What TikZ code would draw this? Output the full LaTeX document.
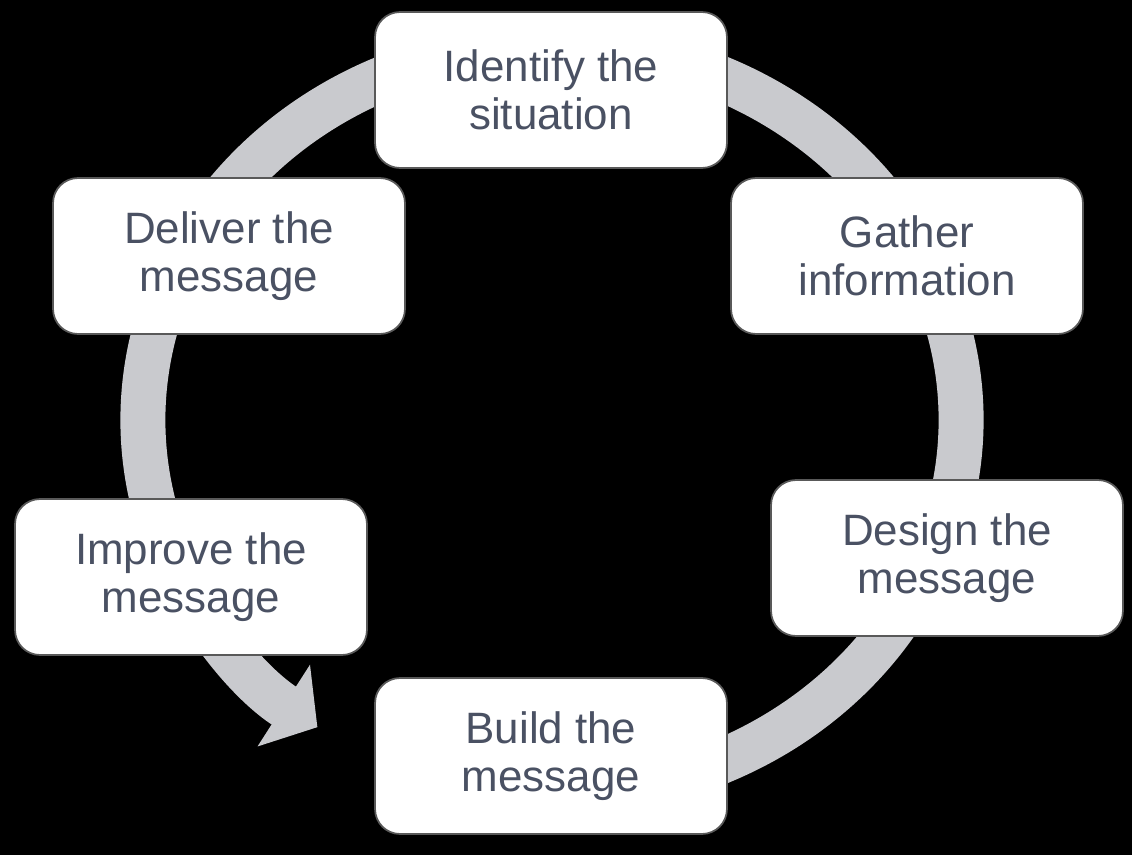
\documentclass[tikz,border=0pt]{standalone}
\usepackage{fontspec}
\setmainfont{Liberation Sans}
\usetikzlibrary{arrows.meta}
\definecolor{ring}{HTML}{C9CACE}
\definecolor{txt}{HTML}{4A5163}
\begin{document}
\begin{tikzpicture}[x=0.02cm,y=-0.02cm,
  box/.style={draw=gray!70!black,line width=1pt,fill=white,rounded corners=0.5cm,
    minimum width=7.04cm,minimum height=3.12cm,align=center,text=txt,
    font=\fontsize{25}{27}\selectfont}]
\fill[black] (0,0) rectangle (1132,855);
\useasboundingbox (0,0) rectangle (1132,855);
\draw[ring,line width=0.9cm,-{Triangle[width=1.9cm,length=0.8cm]}]
  (552,420) ++(70:409 and 375) arc[start angle=70,end angle=-235,x radius=409,y radius=375];
\node[box] (a) at (551,90) {Identify the\\situation};
\node[box] (b) at (907,256) {Gather\\information};
\node[box] (c) at (947,558) {Design the\\message};
\node[box] (d) at (551,756) {Build the\\message};
\node[box] (e) at (191,577) {Improve the\\message};
\node[box] (f) at (229,256) {Deliver the\\message};
\end{tikzpicture}
\end{document}
